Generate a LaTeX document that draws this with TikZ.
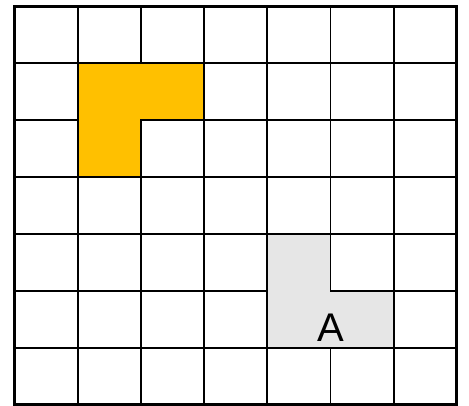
\documentclass[tikz,border=0pt]{standalone}
\usepackage{fontspec}
\setmainfont{Liberation Sans}
\definecolor{tileorange}{HTML}{FFC000}
\definecolor{tilegray}{HTML}{E6E6E6}
\begin{document}
\begin{tikzpicture}[x=1pt,y=-1pt,
  gridline/.style={line width=1.8pt,black},
  border/.style={line width=3pt,black},
  tile/.style={line width=1.8pt,draw=black,line join=miter}]
\useasboundingbox (0,0) rectangle (469,406);
\def\xo{14.5}\def\yo{6.5}\def\cw{63.2}\def\ch{56.9}
% grid lines
\foreach \i in {1,...,6}{
  \draw[gridline] ({\xo+\i*\cw},\yo) -- ({\xo+\i*\cw},{\yo+7*\ch});
  \draw[gridline] (\xo,{\yo+\i*\ch}) -- ({\xo+7*\cw},{\yo+\i*\ch});
}
% orange L tile
\draw[tile,fill=tileorange] ({\xo+1*\cw},{\yo+1*\ch}) -- ({\xo+3*\cw},{\yo+1*\ch}) -- ({\xo+3*\cw},{\yo+2*\ch}) -- ({\xo+2*\cw},{\yo+2*\ch}) -- ({\xo+2*\cw},{\yo+3*\ch}) -- ({\xo+1*\cw},{\yo+3*\ch}) -- cycle;
% gray L tile
\draw[tile,fill=tilegray] ({\xo+4*\cw},{\yo+4*\ch}) -- ({\xo+5*\cw},{\yo+4*\ch}) -- ({\xo+5*\cw},{\yo+5*\ch}) -- ({\xo+6*\cw},{\yo+5*\ch}) -- ({\xo+6*\cw},{\yo+6*\ch}) -- ({\xo+4*\cw},{\yo+6*\ch}) -- cycle;
\node[font=\fontsize{40}{40}\selectfont,inner sep=0pt] (labelA) at ({\xo+5*\cw},{\yo+5.64*\ch}) {A};
% outer border
\draw[border] (\xo,\yo) rectangle ({\xo+7*\cw},{\yo+7*\ch});
\end{tikzpicture}
\end{document}
